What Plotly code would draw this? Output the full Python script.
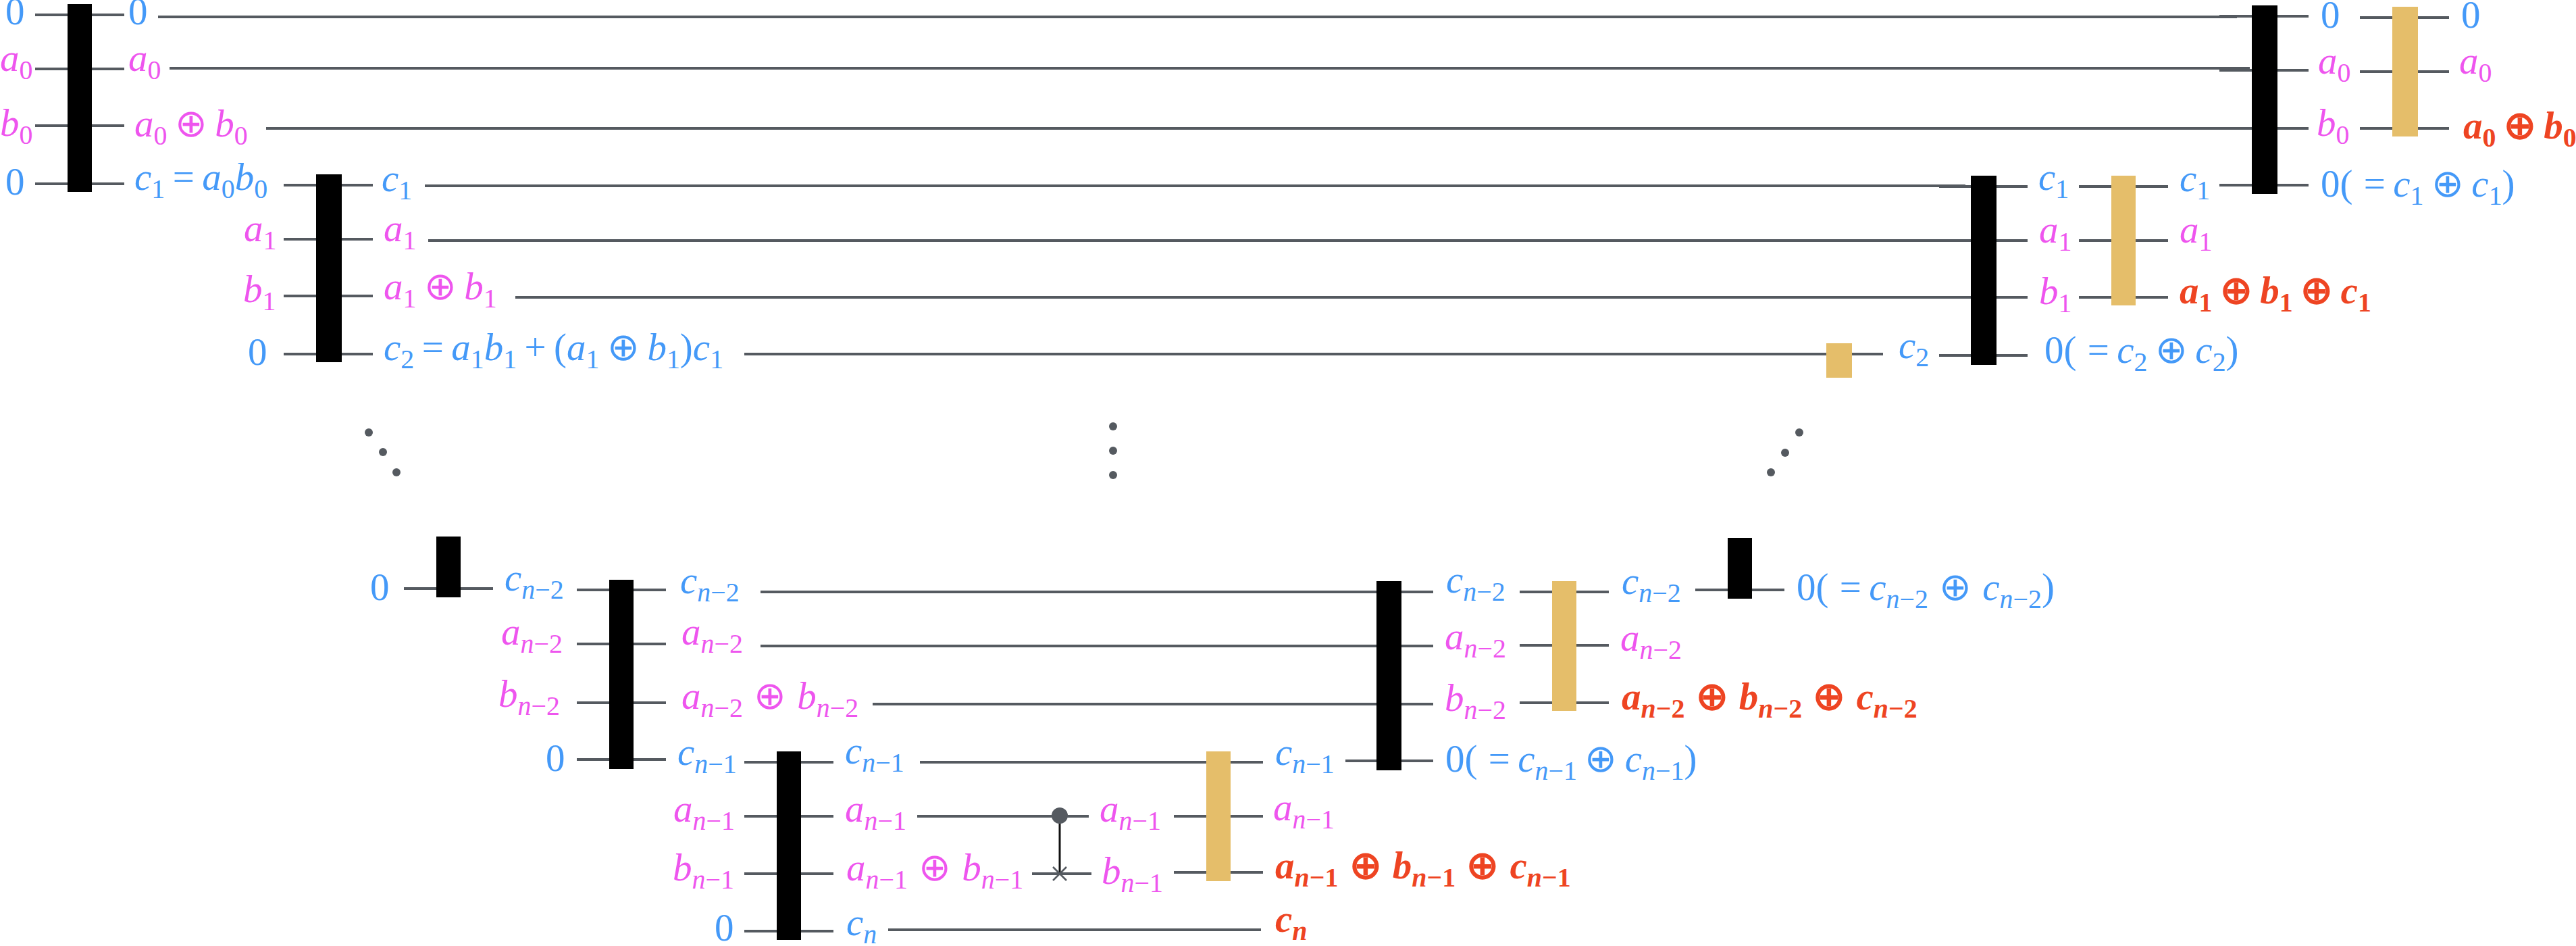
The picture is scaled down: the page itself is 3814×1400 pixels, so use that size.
import plotly.graph_objects as go

FONT = "Liberation Serif"
FS = 57
BLUE = "#4499f8"
MAGENTA = "#ee55ee"
RED = "#ee4422"
GOLD = "#e5be6a"
WIRE = "#555a60"
OPLUS = "\u2009\u2295\u2009"
OPLUS_N = "\u2009\u200a\u2295\u2009\u200a"
ROPLUS = "\u2009<b>\u2295</b>\u2009"
ROPLUS_N = "\u2009\u200a<b>\u2295</b>\u2009\u200a"
EQ0 = "0(\u2009\u200a=\u2009"


def v(letter, sub=""):
    s = f"<i>{letter}</i>"
    if sub:
        s += f"<sub>{sub}</sub>"
    return s


def b(letter, sub=""):
    s = f"<b><i>{letter}</i>"
    if sub:
        s += f"<sub>{sub}</sub>"
    return s + "</b>"


N1 = "<i>n</i>\u22121"
N2 = "<i>n</i>\u22122"

# wires as (start, end, level)
wires = [
    (52, 184, 22), (52, 184, 102), (52, 184, 186), (52, 184, 272),
    (234, 3312, 25), (251, 3331, 101), (394, 3334, 190),
    (3286, 3334, 24), (3286, 3334, 104),
    (3334, 3418, 24), (3334, 3418, 104), (3334, 3418, 190), (3286, 3418, 274),
    (3494, 3626, 26), (3494, 3626, 106), (3494, 3626, 190),
    (420, 552, 274), (420, 552, 354), (420, 552, 438), (420, 552, 524),
    (629, 2910, 275), (634, 2918, 356), (763, 2918, 440), (1102, 2704, 524),
    (2742, 2788, 524), (2871, 3002, 526), (2871, 3002, 276),
    (2918, 3002, 356), (2918, 3002, 440),
    (3078, 3210, 276), (3078, 3210, 356), (3078, 3210, 440),
    (598, 730, 871), (2510, 2642, 873),
    (854, 986, 873), (854, 986, 953), (854, 986, 1040), (854, 986, 1124),
    (1126, 2122, 876), (1126, 2122, 956), (1292, 2122, 1042), (1992, 2122, 1126),
    (1102, 1234, 1128), (1102, 1234, 1208), (1102, 1234, 1293), (1102, 1234, 1378),
    (1362, 1870, 1128), (1358, 1612, 1208), (1528, 1616, 1293),
    (1738, 1870, 1208), (1738, 1870, 1291), (1315, 1867, 1376),
    (2250, 2382, 876), (2250, 2382, 955), (2250, 2382, 1040),
]

# gates as (left, right, top, bottom)
black_gates = [
    (100, 136, 6, 284), (468, 506, 258, 536), (3334, 3372, 8, 287),
    (2918, 2956, 260, 540), (646, 682, 794, 884), (902, 938, 858, 1138),
    (1150, 1186, 1112, 1391), (2038, 2075, 860, 1140), (2558, 2594, 796, 886),
]
gold_gates = [
    (3542, 3580, 10, 202), (3126, 3162, 260, 452), (2704, 2742, 508, 559),
    (2298, 2334, 860, 1052), (1786, 1822, 1112, 1304),
]

dots_x = [546, 567, 587, 1648, 1648, 1648, 2622, 2643, 2664]
dots_y = [640, 669, 699, 631, 667, 703, 699, 670, 640]

control_x = [1569]
control_y = [1207]
target_y = [1293]

# labels as (left, baseline, text)
blue_labels = [
    (8, 39, "0"), (8, 291, "0"), (190, 39, "0"),
    (199, 284, v("c", "1") + "\u2009=\u2009" + v("a", "0") + v("b", "0")),
    (367, 543, "0"), (565, 286, v("c", "1")),
    (568, 536, v("c", "2") + "\u2009=\u2009" + v("a", "1") + v("b", "1") + "\u2009+\u2009(" + v("a", "1") + OPLUS + v("b", "1") + ")" + v("c", "1")),
    (3436, 44, "0"), (3644, 44, "0"),
    (3436, 294, EQ0 + v("c", "1") + OPLUS + v("c", "1") + ")"),
    (3018, 284, v("c", "1")), (3227, 286, v("c", "1")), (2811, 533, v("c", "2")),
    (3027, 540, EQ0 + v("c", "2") + OPLUS + v("c", "2") + ")"),
    (548, 891, "0"), (747, 877, v("c", N2)), (808, 1144, "0"), (1007, 881, v("c", N2)),
    (1003, 1135, v("c", N1)), (1058, 1395, "0"), (1251, 1133, v("c", N1)), (1253, 1387, v("c", "<i>n</i>")),
    (1888, 1135, v("c", N1)), (2141, 880, v("c", N2)), (2401, 882, v("c", N2)),
    (2140, 1145, EQ0 + v("c", N1) + OPLUS + v("c", N1) + ")"),
    (2660, 891, EQ0 + v("c", N2) + OPLUS_N + v("c", N2) + ")"),
]
magenta_labels = [
    (0, 108, v("a", "0")), (0, 204, v("b", "0")), (190, 108, v("a", "0")),
    (199, 205, v("a", "0") + OPLUS + v("b", "0")),
    (361, 360, v("a", "1")), (360, 450, v("b", "1")), (568, 360, v("a", "1")),
    (568, 446, v("a", "1") + OPLUS + v("b", "1")),
    (3432, 112, v("a", "0")), (3430, 204, v("b", "0")), (3641, 112, v("a", "0")),
    (3019, 362, v("a", "1")), (3019, 453, v("b", "1")), (3227, 362, v("a", "1")),
    (742, 957, v("a", N2)), (738, 1049, v("b", N2)), (1009, 957, v("a", N2)),
    (1009, 1052, v("a", N2) + OPLUS_N + v("b", N2)),
    (997, 1219, v("a", N1)), (996, 1306, v("b", N1)), (1251, 1219, v("a", N1)),
    (1253, 1306, v("a", N1) + OPLUS_N + v("b", N1)),
    (1628, 1219, v("a", N1)), (1631, 1311, v("b", N1)), (1885, 1217, v("a", N1)),
    (2139, 964, v("a", N2)), (2139, 1055, v("b", N2)), (2399, 966, v("a", N2)),
]
red_labels = [
    (3647, 208, b("a", "0") + ROPLUS + b("b", "0")),
    (3227, 452, b("a", "1") + ROPLUS + b("b", "1") + ROPLUS + b("c", "1")),
    (1888, 1303, b("a", N1) + ROPLUS_N + b("b", N1) + ROPLUS_N + b("c", N1)),
    (1888, 1382, b("c", "<i>n</i>")),
    (2401, 1053, b("a", N2) + ROPLUS_N + b("b", N2) + ROPLUS_N + b("c", N2)),
]


def wire_xy(items):
    xs, ys = [], []
    for x0, x1, y in items:
        xs += [x0, x1, None]
        ys += [y, y, None]
    return xs, ys


def gate_xy(items):
    xs, ys = [], []
    for x0, x1, y0, y1 in items:
        xs += [x0, x1, x1, x0, x0, None]
        ys += [y0, y0, y1, y1, y0, None]
    return xs, ys


fig = go.Figure()

wx, wy = wire_xy(wires)
fig.add_trace(go.Scatter(x=wx, y=wy, mode="lines", line=dict(color=WIRE, width=4)))

# CNOT-like link between the two lower wires
fig.add_trace(go.Scatter(x=control_x * 2, y=control_y + target_y, mode="lines",
                         line=dict(color="#111111", width=3)))
fig.add_trace(go.Scatter(x=control_x, y=control_y, mode="markers",
                         marker=dict(color=WIRE, size=24)))
fig.add_trace(go.Scatter(x=control_x, y=target_y, mode="markers",
                         marker=dict(symbol="x-thin", size=20, line=dict(color=WIRE, width=2.5))))
fig.add_trace(go.Scatter(x=dots_x, y=dots_y, mode="markers", marker=dict(color=WIRE, size=12)))

for gates, color in [(black_gates, "#000000"), (gold_gates, GOLD)]:
    gx, gy = gate_xy(gates)
    fig.add_trace(go.Scatter(x=gx, y=gy, mode="lines", fill="toself", fillcolor=color,
                             line=dict(width=0, color=color)))

for labels, color in [(blue_labels, BLUE), (magenta_labels, MAGENTA), (red_labels, RED)]:
    fig.add_trace(go.Scatter(
        x=[p[0] for p in labels],
        y=[p[1] - 0.3 * FS for p in labels],
        text=[p[2] for p in labels],
        mode="text",
        textposition="middle right",
        textfont=dict(family=FONT, size=FS, color=color),
        cliponaxis=False,
    ))

fig.update_traces(hoverinfo="skip", showlegend=False)
fig.update_layout(
    width=3814, height=1400, autosize=False,
    margin=dict(l=0, r=0, t=0, b=0),
    paper_bgcolor="white", plot_bgcolor="white",
    xaxis=dict(range=[0, 3814], visible=False, fixedrange=True),
    yaxis=dict(range=[1400, 0], visible=False, fixedrange=True),
)
fig.write_html("out.html", config=dict(displayModeBar=False),
               post_script="document.body.style.margin='0';")
